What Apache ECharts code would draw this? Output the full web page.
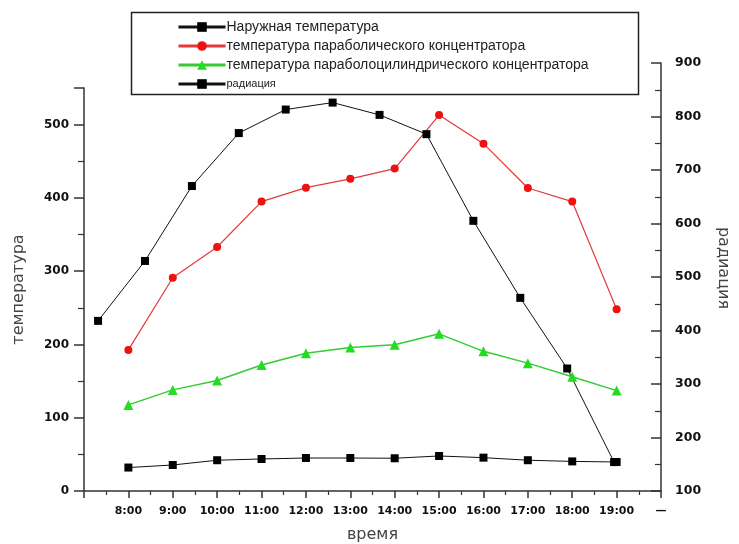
<!DOCTYPE html>
<html><head><meta charset="utf-8">
<script src="https://cdn.jsdelivr.net/npm/echarts@6/dist/echarts.min.js"></script>
<style>html,body{margin:0;padding:0;background:#fff}#c{width:739px;height:544px}</style>
</head><body><div id="c"></div>
<script>
const timeLabels = ['8:00','9:00','10:00','11:00','12:00','13:00','14:00','15:00','16:00','17:00','18:00','19:00'];
const outsideTemp = [32, 35.5, 42, 43.7, 45, 45, 44.7, 47.8, 45.5, 42, 40.4, 39.6];
const parabolicTemp = [192.6, 291, 333, 395, 414, 426, 440, 513, 474, 413.5, 395, 248];
const cylinderTemp = [117.5, 138, 150.7, 172, 188, 196, 199.5, 214.5, 190.6, 174.5, 156, 137];
const radiation = [418, 530, 670, 769, 813, 826, 803, 767, 605, 461, 329, 154];
const seriesNames = ['Наружная температура', 'температура параболического концентратора', 'температура параболоцилиндрического концентратора', 'радиация'];

const toPairs = arr => arr.map((v, i) => [i + 1, v]);
const FONT = 'Liberation Sans, Arial, sans-serif';
const TICKFONT = 'DejaVu Sans, sans-serif';

const chart = echarts.init(document.getElementById('c'), null, {renderer: 'canvas'});
chart.setOption({
  backgroundColor: '#fff',
  animation: false,
  textStyle: {fontFamily: FONT},
  graphic: [{
    type: 'rect', left: 129, top: 10, shape: {width: 507, height: 82},
    style: {fill: 'none', stroke: '#222', lineWidth: 1.5}, z: 10
  }],
  legend: {
    orient: 'vertical', left: 177, top: 20, padding: 0,
    itemWidth: 47, itemHeight: 12, itemGap: 5,
    data: seriesNames,
    textStyle: {fontSize: 14, lineHeight: 14, color: '#222', fontFamily: FONT, padding: [0, 0, 0, -4],
      rich: {s: {fontSize: 11, lineHeight: 14, color: '#222'}}},
    lineStyle: {width: 3},
    formatter: n => n === 'радиация' ? '{s|' + n + '}' : n
  },
  grid: [
    {left: 84, width: 577, top: 88, height: 403, outerBoundsMode: 'none', containLabel: false},
    {left: 84, width: 577, top: 63, height: 428, outerBoundsMode: 'none', containLabel: false}
  ],
  xAxis: [{
    type: 'value', gridIndex: 0, min: 0, max: 13, interval: 1,
    axisLine: {lineStyle: {color: '#333', width: 1.5}},
    axisTick: {length: 7, lineStyle: {color: '#333', width: 1.5}},
    minorTick: {show: true, splitNumber: 2, length: 4, lineStyle: {color: '#333', width: 1.2}},
    splitLine: {show: false},
    axisLabel: {
      fontWeight: 'bold', fontSize: 11, color: '#111', margin: 15, fontFamily: TICKFONT,
      formatter: v => { const k = Math.round(v); return (k >= 1 && k <= timeLabels.length) ? timeLabels[k - 1] : (k === 13 ? '—' : ''); }
    },
    name: 'время', nameLocation: 'middle', nameGap: 36,
    nameTextStyle: {fontSize: 16, color: '#444', fontFamily: TICKFONT}
  }, {
    type: 'value', gridIndex: 1, min: 0.7, max: 13, show: false
  }],
  yAxis: [{
    type: 'value', gridIndex: 0, min: 0, max: 550, interval: 100,
    axisLine: {show: true, lineStyle: {color: '#333', width: 1.5}},
    axisTick: {show: true, length: 10, lineStyle: {color: '#333', width: 1.5}},
    minorTick: {show: true, splitNumber: 2, length: 6, lineStyle: {color: '#333', width: 1.2}},
    splitLine: {show: false},
    axisLabel: {fontWeight: 'bold', fontSize: 12, color: '#111', margin: 15, fontFamily: TICKFONT,
      formatter: v => v % 100 === 0 ? String(v) : ''},
    name: 'температура', nameLocation: 'middle', nameGap: 57,
    nameTextStyle: {fontSize: 16, color: '#444', fontFamily: TICKFONT}
  }, {
    type: 'value', gridIndex: 1, position: 'right', min: 100, max: 900, interval: 100,
    axisLine: {show: true, lineStyle: {color: '#333', width: 1.5}},
    axisTick: {show: true, inside: true, length: 10, lineStyle: {color: '#333', width: 1.5}},
    minorTick: {show: true, splitNumber: 2, length: 6, lineStyle: {color: '#333', width: 1.2}},
    splitLine: {show: false},
    axisLabel: {fontWeight: 'bold', fontSize: 12.5, color: '#111', margin: 14, fontFamily: TICKFONT},
    name: 'радиация', nameLocation: 'middle', nameGap: 54, nameRotate: -90,
    nameTextStyle: {fontSize: 16, color: '#444', fontFamily: TICKFONT, padding: [0, 18, 0, 0]}
  }],
  series: [{
    name: seriesNames[0], type: 'line', xAxisIndex: 0, yAxisIndex: 0,
    data: toPairs(outsideTemp), symbol: 'rect', symbolSize: 8,
    itemStyle: {color: '#000'}, lineStyle: {color: '#111', width: 1}
  }, {
    name: seriesNames[1], type: 'line', xAxisIndex: 0, yAxisIndex: 0,
    data: toPairs(parabolicTemp), symbol: 'circle', symbolSize: 8,
    itemStyle: {color: '#ee1111'}, lineStyle: {color: '#e23a3a', width: 1.2}
  }, {
    name: seriesNames[2], type: 'line', xAxisIndex: 0, yAxisIndex: 0,
    data: toPairs(cylinderTemp), symbol: 'triangle', symbolSize: 10,
    itemStyle: {color: '#22dd22'}, lineStyle: {color: '#33cc33', width: 1.5}
  }, {
    name: seriesNames[3], type: 'line', xAxisIndex: 1, yAxisIndex: 1,
    data: toPairs(radiation), symbol: 'rect', symbolSize: 8,
    itemStyle: {color: '#000'}, lineStyle: {color: '#111', width: 1}
  }]
});
</script></body></html>
